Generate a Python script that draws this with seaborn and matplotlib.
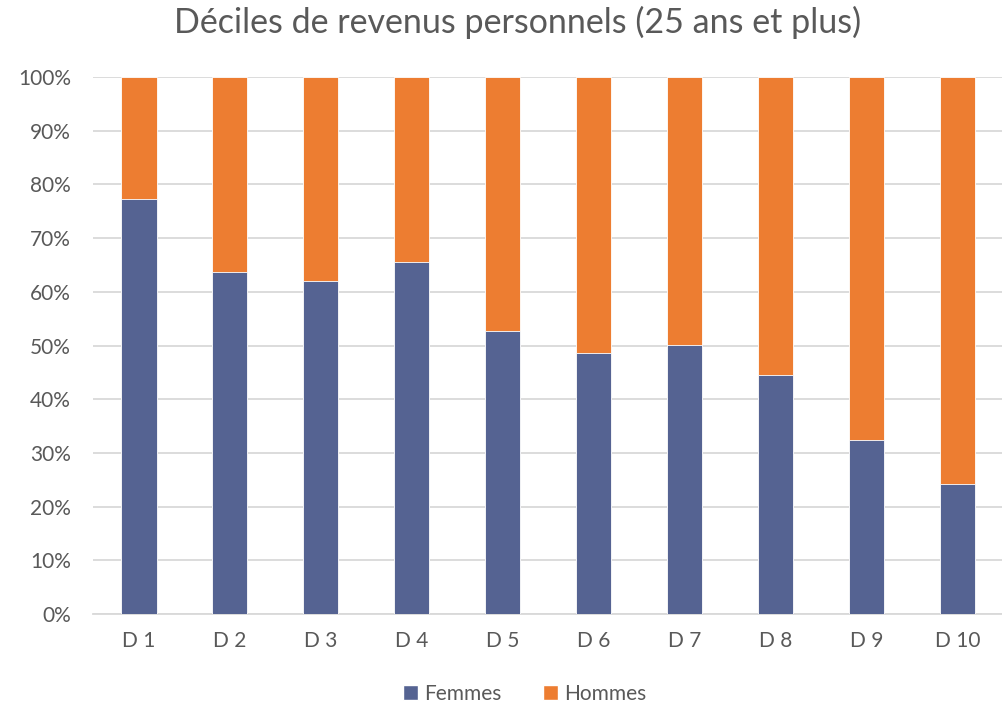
import matplotlib
matplotlib.use("Agg")
import matplotlib.pyplot as plt
import seaborn as sns
import pandas as pd
from matplotlib.ticker import PercentFormatter
from matplotlib.patches import Patch

categories = ["D 1", "D 2", "D 3", "D 4", "D 5", "D 6", "D 7", "D 8", "D 9", "D 10"]
femmes = [77.2, 63.7, 62.1, 65.5, 52.8, 48.7, 50.1, 44.5, 32.5, 24.2]
hommes = [22.8, 36.3, 37.9, 34.5, 47.2, 51.3, 49.9, 55.5, 67.5, 75.8]
yticks = [0, 10, 20, 30, 40, 50, 60, 70, 80, 90, 100]

blue = "#556392"
orange = "#ED7D31"
textc = "#595959"

sns.set_theme(style="white")
plt.rcParams['font.family'] = ['Lato', 'DejaVu Sans']

df = pd.DataFrame({"cat": categories, "femmes": femmes,
                   "total": [f + h for f, h in zip(femmes, hommes)]})

fig = plt.figure(figsize=(10.03, 7.07), dpi=100)
ax = fig.add_axes([0.093, 0.1315, 0.907, 0.7595])

sns.barplot(data=df, x="cat", y="total", color=orange, width=0.39,
            saturation=1, ax=ax, edgecolor="white", linewidth=0.6, zorder=3)
sns.barplot(data=df, x="cat", y="femmes", color=blue, width=0.39,
            saturation=1, ax=ax, edgecolor="white", linewidth=0.6, zorder=4)

ax.set_ylim(0, 100)
ax.set_xlim(-0.5, len(categories) - 0.5)
ax.set_yticks(yticks)
ax.yaxis.set_major_formatter(PercentFormatter(decimals=0))
ax.grid(axis="y", color="#D9D9D9", linewidth=1.3, zorder=0)
ax.set_axisbelow(True)
for s in ["top", "right", "left"]:
    ax.spines[s].set_visible(False)
ax.spines["bottom"].set_color("#D9D9D9")
ax.spines["bottom"].set_linewidth(1.3)
ax.set_xlabel("")
ax.set_ylabel("")
ax.tick_params(axis="y", labelsize=15, colors=textc, length=0, pad=16)
ax.tick_params(axis="x", labelsize=15, colors=textc, length=0, pad=12)

fig.suptitle("Déciles de revenus personnels (25 ans et plus)", fontsize=24.5,
             color=textc, y=0.992, x=0.516)

handles = [Patch(facecolor=blue, label="Femmes"), Patch(facecolor=orange, label="Hommes")]
fig.legend(handles=handles, loc="lower center", bbox_to_anchor=(0.523, -0.022), ncol=2,
           frameon=False, fontsize=15, labelcolor=textc, handlelength=0.7,
           handleheight=0.7, handletextpad=0.3, columnspacing=2.0)

fig.savefig("out.png", dpi=100)
